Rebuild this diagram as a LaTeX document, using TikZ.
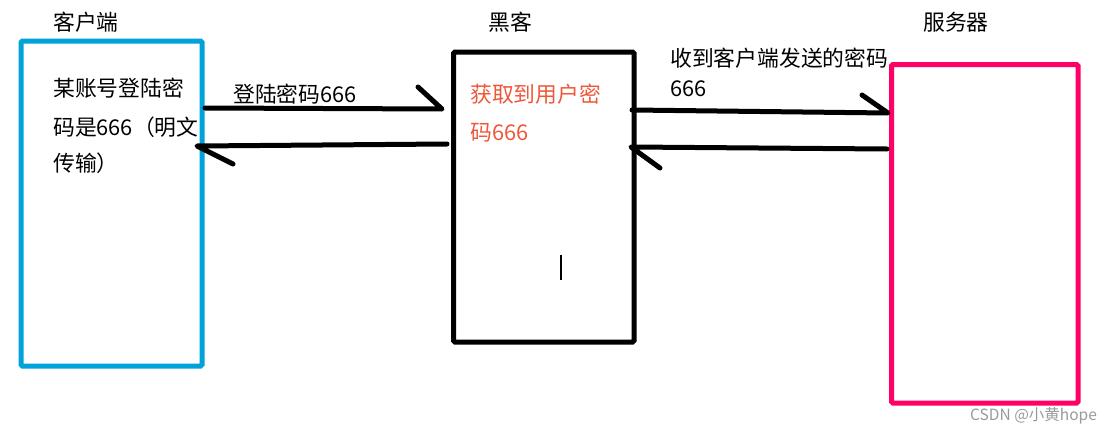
\documentclass[tikz,border=0pt]{standalone}
\usepackage{fontspec}
\setmainfont{Noto Sans CJK SC}
\usetikzlibrary{calc}

\definecolor{clientblue}{RGB}{0,162,218}
\definecolor{serverpink}{RGB}{255,0,102}
\definecolor{hackred}{RGB}{238,88,58}

\tikzset{
  box/.style = {draw, line width=5pt, rounded corners=1.5pt, inner sep=0, outer sep=0, anchor=north west},
  pen/.style = {line width=5pt, line cap=round, line join=round},
  txt/.style = {inner sep=0, anchor=west, font=\fontsize{21.8}{26}\selectfont},
}

\begin{document}
\begin{tikzpicture}[x=1pt, y=-1pt]
\useasboundingbox (0,0) rectangle (1112,434);
% the three boxes
\node [box, clientblue, minimum width=181pt, minimum height=325pt] (client) at (21,41) {};
\node [box, black, minimum width=180.5pt, minimum height=290pt] (hacker) at (453.5,52) {};
\node [box, serverpink, minimum width=186.5pt, minimum height=338.5pt] (server) at (891.5,64.5) {};
% titles
\node [txt] (clienttitle) at (53,22) {客户端};
\node [txt] (hackertitle) at (488,22) {黑客};
\node [txt] (servertitle) at (923,22) {服务器};
% text in the boxes
\node [txt] (cl1) at (53,88) {某账号登陆密};
\node [txt] (cl2) at (53,127) {码是666（明文};
\node [txt] (cl3) at (53,163) {传输）};
\node [txt, hackred] (hk1) at (470,94) {获取到用户密};
\node [txt, hackred] (hk2) at (470,133) {码666};
% arrow labels
\node [txt] (lab1) at (233,94) {登陆密码666};
\node [txt] (lab2) at (670,58) {收到客户端发送的密码};
\node [txt] (lab3) at (670,89) {666};
% client -> hacker
\draw [pen] ($(client.north east)+(3,67)$) -- ($(hacker.north west)+(-11.5,57)$) -- ++(-24,-22);
% hacker -> client
\draw [pen] ($(hacker.north west)+(-6.5,92)$) -- ($(client.north east)+(-5,105)$) -- ++(36,18);
% hacker -> server
\draw [pen] ($(hacker.north east)+(-2,58)$) -- ($(server.north west)+(-3.5,48.5)$) -- ++(-26,-18);
% server -> hacker
\draw [pen] ($(server.north west)+(-4.5,84.5)$) -- ($(hacker.north east)+(-3,95)$) -- ++(29,21);
% text cursor
\draw [line width=1.2pt] (561,255) -- (561,280);
\node [inner sep=0, anchor=west, gray!80, font=\fontsize{15.5}{18}\selectfont] (mark) at (970,416) {CSDN @小黄hope};
\end{tikzpicture}
\end{document}
